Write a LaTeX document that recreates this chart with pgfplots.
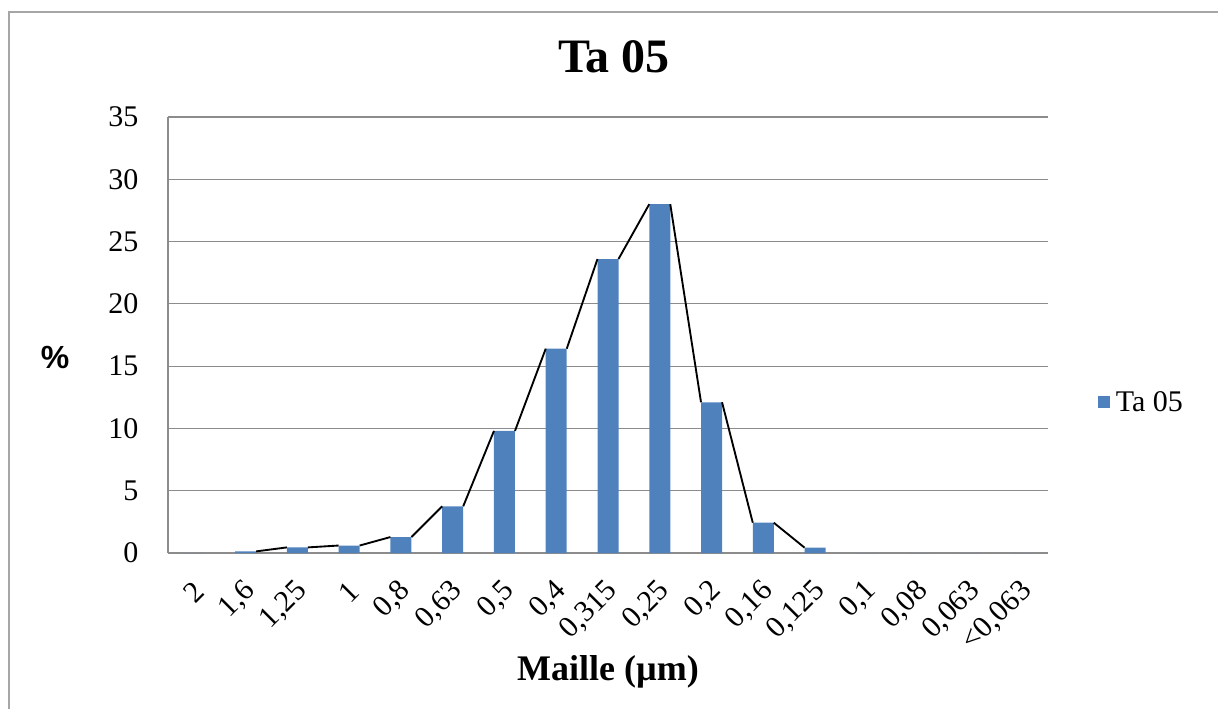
\documentclass[border=0pt]{standalone}
\usepackage{pgfplots}
\pgfplotsset{compat=1.18}
\usepackage{fontspec}
\setmainfont{Liberation Serif}
\newfontfamily\arialfont{Liberation Sans}
\definecolor{barblue}{HTML}{4F81BD}
\definecolor{gridgray}{HTML}{8C8C8C}
\definecolor{framegray}{HTML}{A6A6A6}
\begin{document}
\begin{tikzpicture}
\useasboundingbox (0pt,0pt) rectangle (913.5pt,-531.75pt);
% outer chart frame (left and top edges visible)
\draw[framegray, line width=1.6pt] (6.75pt,-531.75pt) -- (6.75pt,-9pt) -- (913.5pt,-9pt);
\begin{axis}[
  at={(126pt,-414.75pt)}, anchor=south west,
  scale only axis, width=660pt, height=327pt,
  xmin=-0.5, xmax=16.5, ymin=0, ymax=35,
  ytick={0,5,...,35},
  xtick={0,...,16},
  xticklabels={2,{1,6},{1,25},1,{0,8},{0,63},{0,5},{0,4},{0,315},{0,25},{0,2},{0,16},{0,125},{0,1},{0,08},{0,063},{<0,063}},
  axis lines*=left,
  axis line style={gridgray, line width=0.8pt},
  major tick length=0pt,
  ymajorgrids, grid style={gridgray, line width=0.8pt},
  /pgf/number format/assume math mode=true,
  tick label style={font=\fontsize{22.5}{26}\selectfont},
  yticklabel style={anchor=east, inner sep=0pt, xshift=-22pt},
  xticklabel style={inner sep=0pt, yshift=-25pt, xshift=4pt, rotate=45, anchor=east},
  unbounded coords=jump,
  legend style={at={(1.057,0.346)}, anchor=west, draw=none, fill=none,
    font=\fontsize{22.5}{26}\selectfont, inner sep=0pt,
    nodes={inner sep=4pt}},
  legend image code/.code={\fill[barblue] (0pt,-4.5pt) rectangle (9pt,4.5pt);},
]
\addplot[ybar, bar width=15.75pt, fill=barblue, draw=none] coordinates {
  (0,0) (1,0.13) (2,0.45) (3,0.6) (4,1.28) (5,3.75) (6,9.8) (7,16.4)
  (8,23.6) (9,28.0) (10,12.1) (11,2.43) (12,0.43) (13,0) (14,0) (15,0) (16,0)
};
\addlegendentry{Ta 05}
\addplot[black, line width=1.4pt, forget plot] coordinates {
  (1.203,0.13) (1.797,0.45) (1.8,nan)
  (2.203,0.45) (2.797,0.6) (2.8,nan)
  (3.203,0.6) (3.797,1.28) (3.8,nan)
  (4.203,1.28) (4.797,3.75) (4.8,nan)
  (5.203,3.75) (5.797,9.8) (5.8,nan)
  (6.203,9.8) (6.797,16.4) (6.8,nan)
  (7.203,16.4) (7.797,23.6) (7.8,nan)
  (8.203,23.6) (8.797,28.0) (8.8,nan)
  (9.203,28.0) (9.797,12.1) (9.8,nan)
  (10.203,12.1) (10.797,2.43) (10.8,nan)
  (11.203,2.43) (11.797,0.43)
};
\end{axis}
\node[anchor=base, font=\fontsize{36}{42}\selectfont\bfseries] at (460.5pt,-54.75pt) {Ta 05};
\node[font=\arialfont\fontsize{24}{28}\selectfont\bfseries] at (41.25pt,-268pt) {\%};
\node[anchor=base, font=\fontsize{27}{31}\selectfont\bfseries] at (456pt,-510pt) {Maille (µm)};
\end{tikzpicture}
\end{document}
